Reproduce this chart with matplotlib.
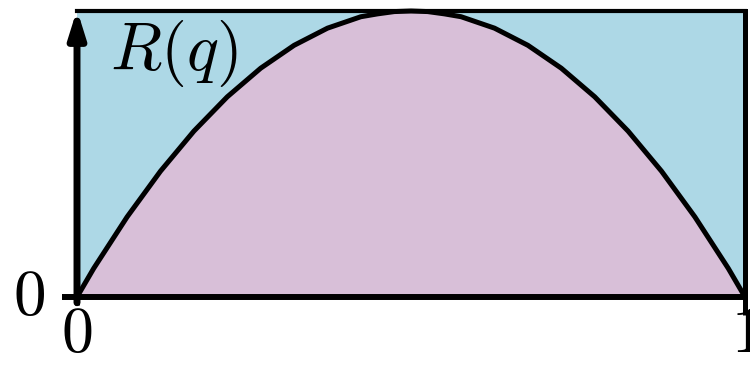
import matplotlib
matplotlib.use("Agg")
import matplotlib.pyplot as plt

plt.rcParams["mathtext.fontset"] = "cm"
plt.rcParams["font.family"] = "serif"
plt.rcParams["font.serif"] = ["DejaVu Serif"]

# R(q), q from 0 to 1
q_values = [0.0, 0.025, 0.05, 0.075, 0.1, 0.125, 0.15, 0.175, 0.2, 0.225,
            0.25, 0.275, 0.3, 0.325, 0.35, 0.375, 0.4, 0.425, 0.45, 0.475,
            0.5, 0.525, 0.55, 0.575, 0.6, 0.625, 0.65, 0.675, 0.7, 0.725,
            0.75, 0.775, 0.8, 0.825, 0.85, 0.875, 0.9, 0.925, 0.95, 0.975, 1.0]
r_values = [0.0, 0.10, 0.19, 0.28, 0.36, 0.44, 0.51, 0.58, 0.64, 0.70,
            0.75, 0.80, 0.84, 0.88, 0.91, 0.94, 0.96, 0.98, 0.99, 0.998,
            1.0, 0.998, 0.99, 0.98, 0.96, 0.94, 0.91, 0.88, 0.84, 0.80,
            0.75, 0.70, 0.64, 0.58, 0.51, 0.44, 0.36, 0.28, 0.19, 0.10, 0.0]

x_ticks = [0, 1]
x_tick_labels = ["$0$", "$1$"]
y_ticks = [0]
y_tick_labels = ["$0$"]
curve_label = "$R(q)$"

fig = plt.figure(figsize=(7.5, 3.67), dpi=100)
ax = fig.add_axes([77 / 750, 70 / 367, 668 / 750, 286 / 367])
ax.set_xlim(0, 1)
ax.set_ylim(0, 1)
ax.set_facecolor("#ADD8E6")

ax.fill_between(q_values, r_values, 0, color="#D8BFD8", lw=0)
ax.plot(q_values, r_values, color="black", lw=3.6, clip_on=False,
        solid_capstyle="round", solid_joinstyle="round", zorder=5)

# frame: thin top/right, heavy bottom, left axis drawn as an arrow
ax.spines["top"].set_linewidth(3.0)
ax.spines["right"].set_linewidth(3.6)
ax.spines["bottom"].set_linewidth(4.3)
ax.spines["left"].set_visible(False)
for s in ax.spines.values():
    s.set_zorder(6)

ax.annotate("", xy=(0, 1.005), xytext=(0, -0.02), xycoords="axes fraction",
            arrowprops=dict(arrowstyle="-|>,head_length=1.6,head_width=0.5",
                            lw=5, color="black", shrinkA=0, shrinkB=0),
            annotation_clip=False, zorder=7)

ax.set_xticks(x_ticks)
ax.set_xticklabels(x_tick_labels, fontsize=46)
ax.set_yticks(y_ticks)
ax.set_yticklabels(y_tick_labels, fontsize=47, va="center")
ax.tick_params(axis="x", direction="out", length=6, width=3.6, pad=-1)
ax.tick_params(axis="y", direction="out", length=11, width=4.3, pad=12)
ax.xaxis.get_major_ticks()[1].tick1line.set_markersize(13)

ax.text(0.05, 0.794, curve_label, transform=ax.transAxes, fontsize=48,
        ha="left", va="baseline")

fig.savefig("out.png", dpi=100)
